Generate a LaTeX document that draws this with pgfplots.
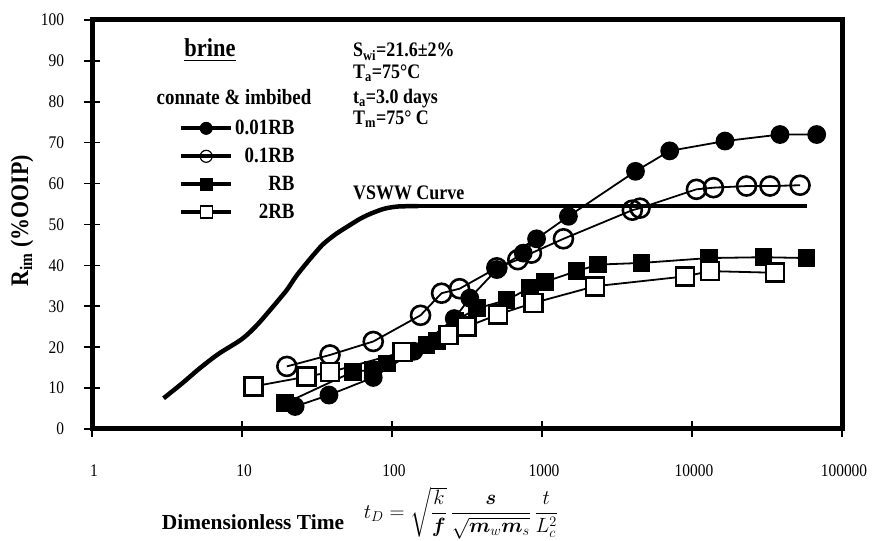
\documentclass[border=0pt]{standalone}
\usepackage{amsmath,bm}
\usepackage{graphicx}
\usepackage{pgfplots}
\pgfplotsset{compat=1.18}
\usepackage{fontspec}
\setmainfont{Liberation Serif}
\newcommand{\vs}[1]{\scalebox{1}[1.15]{#1}}

\pgfplotstableread{
x y
3 7.5
4 11.2
5.25 14.9
7 18.4
10 22
12.5 25.3
15 28.6
17.5 31.5
20 34.1
23 37.4
27 40.6
31 43.2
35 45.3
42 47.6
50 49.4
62 51.5
75 52.9
90 53.9
110 54.4
150 54.5
}\vsww

\pgfplotstableread{
x y
150 54.5
58000 54.5
}\vswwflat

\pgfplotstableread{
x y
22.6 5.5
38 8.3
75 12.6
140 19
260 27
330 32
500 39
750 43
920 46.5
1500 52
4200 63
7100 68
16600 70.4
38600 72
67800 72
}\rbA

\pgfplotstableread{
x y
19.9 15.3
38.6 18.1
75 21.4
155 27.8
214 33.2
282 34.3
500 39.4
690 41.4
850 43
1390 46.5
4000 53.5
4500 54
10700 58.6
13900 59
23100 59.4
33100 59.4
52500 59.6
}\rbB

\pgfplotstableread{
x y
19.4 6.3
55 14
75 14.5
93 16
170 20.5
200 21.5
265 26.5
370 29.5
580 31.5
830 34.5
1050 36
1700 38.6
2375 40.2
4600 40.6
13000 41.8
30000 42
58000 41.8
}\rbC

\pgfplotstableread{
x y
11.9 10.4
27 12.8
38.6 13.9
118 18.8
238 23
315 25
510 28
875 30.8
2255 34.9
8980 37.3
13180 38.6
35700 38.2
}\rbD

\begin{document}
\begin{tikzpicture}
\path[use as bounding box] (0,0) rectangle (880bp,541bp);
\begin{axis}[
  at={(92bp,112bp)}, anchor=south west,
  scale only axis, width=750bp, height=409bp,
  xmode=log, xmin=1, xmax=100000,
  ymin=0, ymax=100,
  xtick={1,10,100,1000,10000,100000},
  xticklabels={\vs{1},\vs{10},\vs{100},\vs{1000},\vs{10000},\vs{100000}},
  ytick={0,10,...,100},
  yticklabels={\vs{0},\vs{10},\vs{20},\vs{30},\vs{40},\vs{50},\vs{60},\vs{70},\vs{80},\vs{90},\vs{100}},
  xminorticks=false,
  tick pos=left,
  tick align=center,
  major tick length=17bp,
  tick style={black, line width=1.6bp},
  axis line style={line width=5bp},
  ticklabel style={font=\fontsize{15.5}{18}\selectfont},
  xticklabel style={yshift=-24bp, xshift=2bp},
  yticklabel style={xshift=-16bp},
  clip=false,
  legend style={draw=none, fill=none, at={(rel axis cs:0.116,0.76)}, anchor=north west,
    inner sep=0pt, row sep=8bp,
    font=\bfseries\fontsize{19}{21}\selectfont,
    nodes={inner sep=2bp}},
  legend cell align=right,
]
\addplot[black, line width=4.5bp, smooth, forget plot] table {\vsww};
\addplot[black, line width=4.5bp, forget plot] table {\vswwflat};
\addplot[black, line width=1.8bp, mark=*, mark size=8.5bp, forget plot] table {\rbA};
\addplot[black, line width=1.8bp, mark=o, mark size=9.5bp, mark options={line width=2.6bp}, forget plot] table {\rbB};
\addplot[black, line width=1.8bp, mark=square*, mark size=8bp, forget plot] table {\rbC};
\addplot[black, line width=1.8bp, mark=square*, mark size=9bp, mark options={fill=white, line width=2.6bp}, forget plot] table {\rbD};

\addlegendimage{black, line width=4bp, mark=*, mark size=6bp, mark options={line width=1bp},
  legend image code/.code={\draw[mark repeat=2,mark phase=2] plot coordinates {(0bp,0bp) (25bp,0bp) (50bp,0bp)};}}
\addlegendentry{\vs{0.01RB}}
\addlegendimage{black, line width=4bp, mark=o, mark size=6bp, mark options={line width=1.2bp, fill=white},
  legend image code/.code={\draw[mark repeat=2,mark phase=2] plot coordinates {(0bp,0bp) (25bp,0bp) (50bp,0bp)};}}
\addlegendentry{\vs{0.1RB}}
\addlegendimage{black, line width=4bp, mark=square*, mark size=6bp, mark options={line width=1bp},
  legend image code/.code={\draw[mark repeat=2,mark phase=2] plot coordinates {(0bp,0bp) (25bp,0bp) (50bp,0bp)};}}
\addlegendentry{\vs{RB}}
\addlegendimage{black, line width=4bp, mark=square*, mark size=6bp, mark options={line width=1.2bp, fill=white},
  legend image code/.code={\draw[mark repeat=2,mark phase=2] plot coordinates {(0bp,0bp) (25bp,0bp) (50bp,0bp)};}}
\addlegendentry{\vs{2RB}}
\end{axis}

\node[font=\bfseries\fontsize{22.5}{26}\selectfont] at (210bp,491bp) {\vs{\underline{brine}}};
\node[font=\bfseries\fontsize{19}{22}\selectfont] at (234bp,444bp) {\vs{connate \& imbibed}};
\begin{scope}[every node/.style={anchor=base west, inner sep=0pt, font=\bfseries\fontsize{18}{21}\selectfont}]
\node at (353bp,484bp) {\vs{S\textsubscript{wi}=21.6±2\%}};
\node at (353bp,462bp) {\vs{T\textsubscript{a}=75°C}};
\node at (353bp,437bp) {\vs{t\textsubscript{a}=3.0 days}};
\node at (353bp,416bp) {\vs{T\textsubscript{m}=75° C}};
\node at (353bp,341bp) {\vs{VSWW Curve}};
\end{scope}
\node[rotate=90, font=\bfseries\fontsize{22}{26}\selectfont] at (22bp,320bp) {\vs{R\textsubscript{im} (\%OOIP)}};
\node[font=\bfseries\fontsize{21.5}{24}\selectfont] at (253bp,19bp) {Dimensionless Time};
\node[font=\fontsize{19.5}{22}\selectfont, inner sep=0pt] at (461bp,28bp)
  {$t_D=\sqrt{\dfrac{k}{\bm{f}}}\,\dfrac{\bm{s}}{\sqrt{\bm{m}_w\bm{m}_s}}\,\dfrac{t}{L_c^2}$};
\end{tikzpicture}
\end{document}
